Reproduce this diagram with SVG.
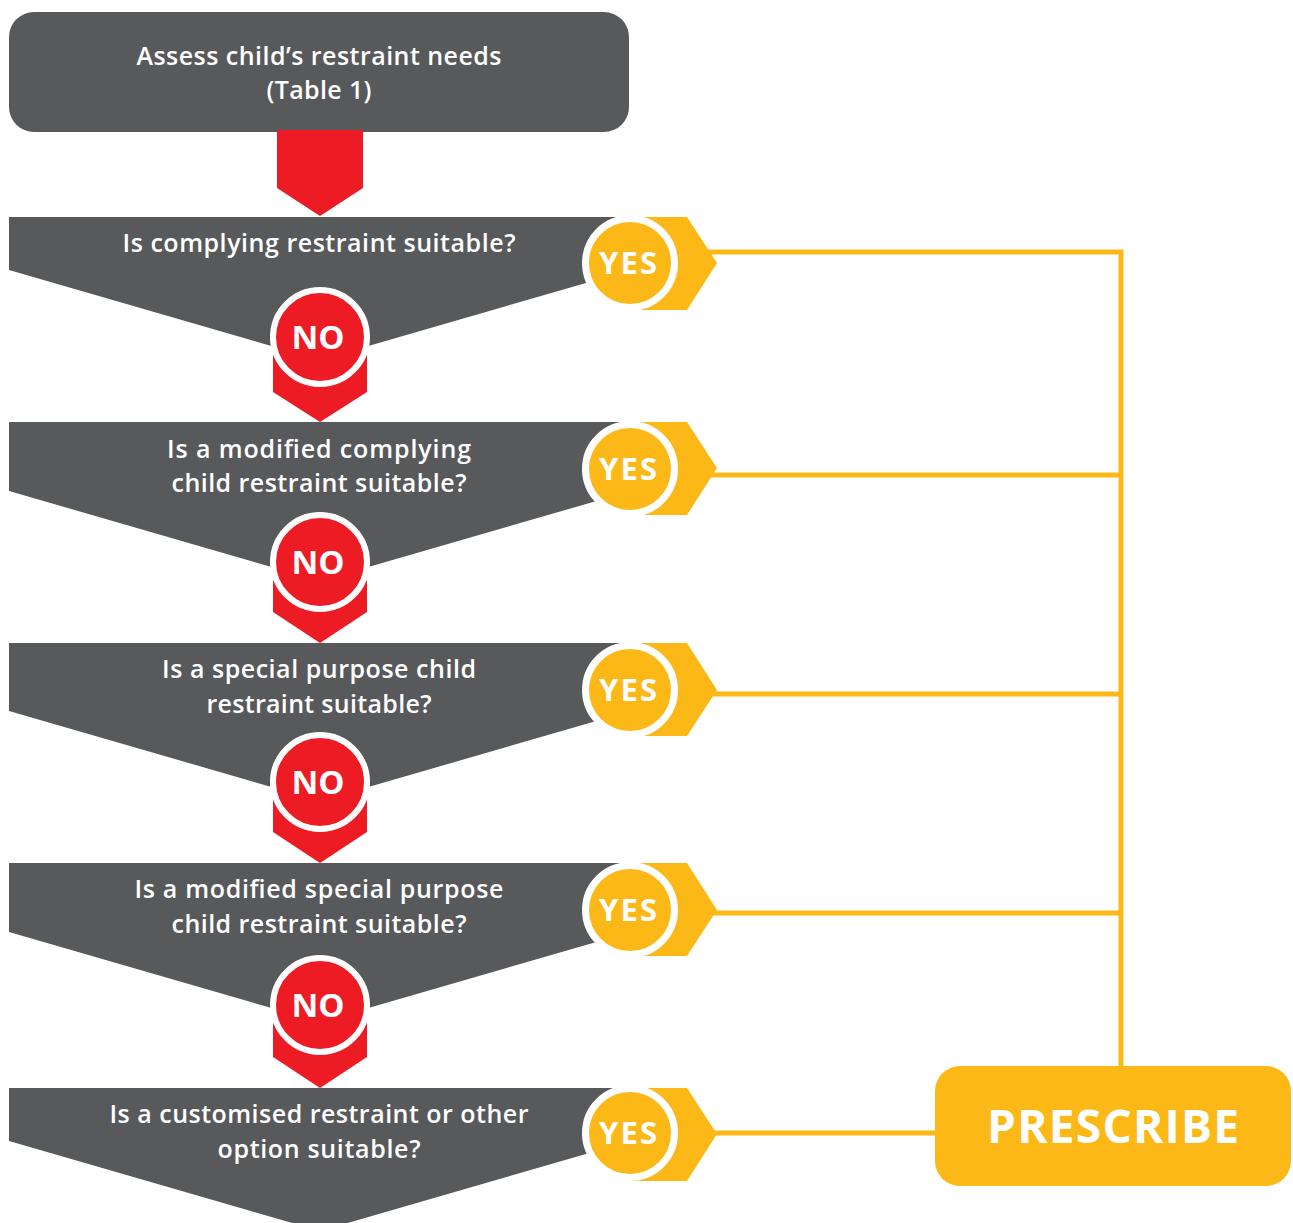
<svg xmlns="http://www.w3.org/2000/svg" width="1293" height="1223" viewBox="0 0 1293 1223">
<defs>
<style>
.gray{fill:#58595b}
.red{fill:#ed1c24}
.yel{fill:#fcb817}
.no{fill:#ed1c24;stroke:#fff;stroke-width:6}
.yes{fill:#fcb817;stroke:#fff;stroke-width:7}
.t{font-family:"Open Sans","Liberation Sans",sans-serif;font-weight:600;font-size:25px;fill:#fff;text-anchor:middle}
.b{font-family:"Open Sans","Liberation Sans",sans-serif;font-weight:700;fill:#fff;text-anchor:middle}
.ln{stroke:#fcb817;stroke-width:5;fill:none}
</style>
</defs>
<rect width="1293" height="1223" fill="#fff"/>
<g id="connectors">
<path class="ln" d="M705 252H1121M705 475H1121M705 694H1121M705 913H1121M1121 249.5V1070M705 1133H940"/>
</g>
<g id="start">
<rect class="gray" x="9" y="12" width="620" height="120" rx="25"/>
<text class="t" x="319" y="65" textLength="365">Assess child’s restraint needs</text>
<text class="t" x="319" y="99" textLength="105">(Table 1)</text>
<polygon class="red" points="277,130 363,130 363,188 320,216 277,188"/>
</g>
<g id="q1">
<polygon class="gray" points="9,217 631,217 631,270 320,360 9,270"/>
<text class="t" x="319" y="252" textLength="393">Is complying restraint suitable?</text>
</g>
<g id="q2">
<polygon class="gray" points="9,422 631,422 631,491 320,581 9,491"/>
<text class="t" x="319" y="458" textLength="304">Is a modified complying</text>
<text class="t" x="319" y="492" textLength="295">child restraint suitable?</text>
</g>
<g id="q3">
<polygon class="gray" points="9,643 631,643 631,711 320,801 9,711"/>
<text class="t" x="319" y="678" textLength="314">Is a special purpose child</text>
<text class="t" x="319" y="713" textLength="225">restraint suitable?</text>
</g>
<g id="q4">
<polygon class="gray" points="9,863 631,863 631,932 320,1022 9,932"/>
<text class="t" x="319" y="898" textLength="369">Is a modified special purpose</text>
<text class="t" x="319" y="933" textLength="295">child restraint suitable?</text>
</g>
<g id="q5">
<polygon class="gray" points="9,1088 631,1088 631,1141 320,1231 9,1141"/>
<text class="t" x="319" y="1123" textLength="419">Is a customised restraint or other</text>
<text class="t" x="319" y="1158" textLength="203">option suitable?</text>
</g>
<g id="no1">
<polygon class="red" points="273,340 367,340 367,392 320,422 273,392"/>
<circle class="no" cx="320" cy="337" r="47"/>
<text class="b" x="318" y="349" font-size="33">NO</text>
</g>
<g id="no2">
<polygon class="red" points="273,565 367,565 367,612 320,643 273,612"/>
<circle class="no" cx="320" cy="562" r="47"/>
<text class="b" x="318" y="574" font-size="33">NO</text>
</g>
<g id="no3">
<polygon class="red" points="273,785 367,785 367,832 320,863 273,832"/>
<circle class="no" cx="320" cy="782" r="47"/>
<text class="b" x="318" y="794" font-size="33">NO</text>
</g>
<g id="no4">
<polygon class="red" points="273,1008 367,1008 367,1057 320,1088 273,1057"/>
<circle class="no" cx="320" cy="1005" r="47"/>
<text class="b" x="318" y="1017" font-size="33">NO</text>
</g>
<g id="yes1">
<polygon class="yel" points="630,217 687,217 717,263 687,310 630,310"/>
<circle class="yes" cx="630" cy="263" r="44.5"/>
<text class="b" x="628" y="274" font-size="31" textLength="58">YES</text>
</g>
<g id="yes2">
<polygon class="yel" points="630,422 687,422 717,468 687,515 630,515"/>
<circle class="yes" cx="630" cy="469" r="44.5"/>
<text class="b" x="628" y="480" font-size="31" textLength="58">YES</text>
</g>
<g id="yes3">
<polygon class="yel" points="630,643 687,643 717,690 687,736 630,736"/>
<circle class="yes" cx="630" cy="690" r="44.5"/>
<text class="b" x="628" y="701" font-size="31" textLength="58">YES</text>
</g>
<g id="yes4">
<polygon class="yel" points="630,863 687,863 717,910 687,956 630,956"/>
<circle class="yes" cx="630" cy="910" r="44.5"/>
<text class="b" x="628" y="921" font-size="31" textLength="58">YES</text>
</g>
<g id="yes5">
<polygon class="yel" points="630,1088 687,1088 717,1134 687,1181 630,1181"/>
<circle class="yes" cx="630" cy="1133" r="44.5"/>
<text class="b" x="628" y="1144" font-size="31" textLength="58">YES</text>
</g>
<g id="prescribe">
<rect class="yel" x="935" y="1066" width="356" height="120" rx="25"/>
<text class="b" x="1113" y="1143" font-size="46" textLength="252">PRESCRIBE</text>
</g>
</svg>
